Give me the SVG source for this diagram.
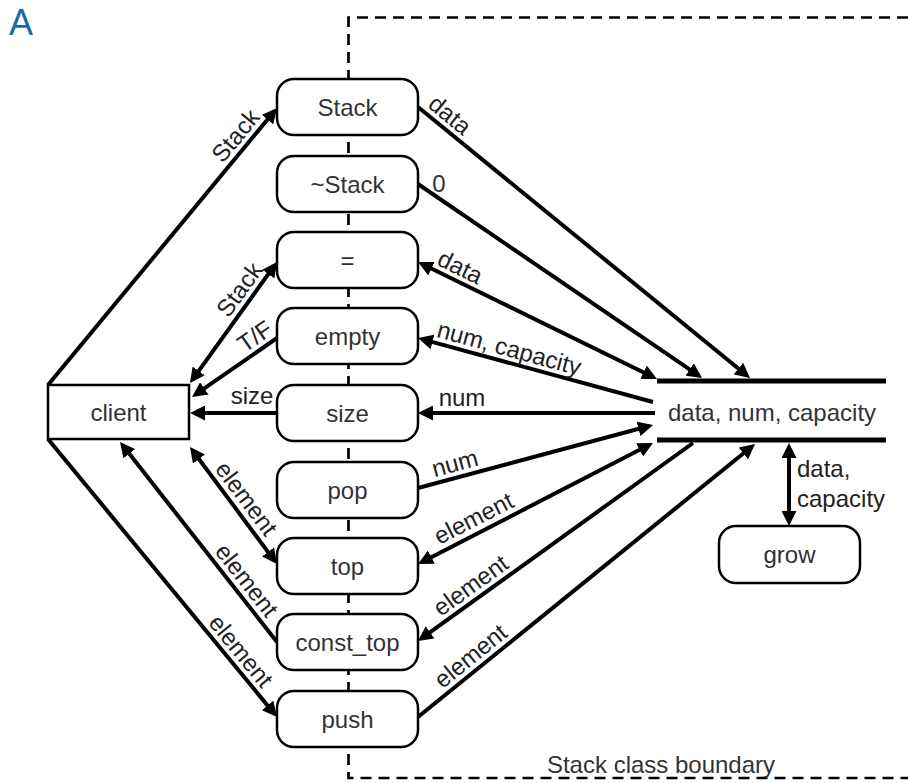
<svg xmlns="http://www.w3.org/2000/svg" width="908" height="783" viewBox="0 0 908 783">
<style>
text{font-family:"Liberation Sans",Arial,sans-serif;font-size:24px;}
.node rect{fill:#fff;stroke:#000;stroke-width:2.5;}
.node text{fill:#333;text-anchor:middle;}
.c{stroke:#000;stroke-width:4;fill:none;}
.a{marker-end:url(#ah);}
.b{marker-start:url(#ah);marker-end:url(#ah);}
.lbl{fill:#222;text-anchor:middle;}
.bound{stroke:#000;stroke-width:2.7;fill:none;stroke-dasharray:11 7;}
</style>
<defs>
<marker id="ah" viewBox="0 0 15 15" refX="11" refY="7.5" markerWidth="15" markerHeight="15" markerUnits="userSpaceOnUse" orient="auto-start-reverse"><path d="M0,0 L15,7.5 L0,15 z" fill="#000"/></marker>
</defs>
<rect width="908" height="783" fill="#fff"/>
<text x="9" y="35" style="font-size:36px;fill:#1a69a9">A</text>
<g id="boundary">
<path class="bound" d="M908,17.5 H348.5 V778 H908"/>
<text x="661" y="773" style="fill:#333;text-anchor:middle">Stack class boundary</text>
</g>
<g id="connectors">
<line class="c a" x1="48" y1="385" x2="274.5" y2="111.1"/>
<line class="c a" x1="418" y1="107" x2="746.9" y2="375.5"/>
<line class="c a" x1="418" y1="184" x2="698.7" y2="375.7"/>
<line class="c b" x1="421.6" y1="263.8" x2="653.4" y2="377.2"/>
<line class="c a" x1="653" y1="402" x2="421.9" y2="339.1"/>
<line class="c a" x1="655" y1="413" x2="422" y2="413"/>
<line class="c a" x1="418" y1="488" x2="649.1" y2="426"/>
<line class="c b" x1="421.6" y1="562.2" x2="649.4" y2="444.8"/>
<line class="c a" x1="693" y1="443" x2="421.2" y2="638.7"/>
<line class="c a" x1="418" y1="717" x2="751.9" y2="446.5"/>
<line class="c b" x1="192.3" y1="379.8" x2="274.7" y2="265.2"/>
<line class="c a" x1="277" y1="338" x2="195.3" y2="394.7"/>
<line class="c a" x1="277" y1="413" x2="194" y2="413"/>
<line class="c b" x1="192.4" y1="450.2" x2="274.6" y2="560.8"/>
<line class="c a" x1="277" y1="642" x2="122.5" y2="445.1"/>
<line class="c a" x1="48" y1="439" x2="274.5" y2="713.9"/>
<line class="c b" x1="789" y1="447" x2="789" y2="522"/>
<text class="lbl" transform="translate(246.5,144.8) rotate(-50.4)" y="-6">Stack</text>
<text class="lbl" transform="translate(441,126) rotate(39.2)" y="-6">data</text>
<text class="lbl" x="439" y="192" style="fill:#333">0</text>
<text class="lbl" transform="translate(454,280) rotate(26.1)" y="-6">data</text>
<text class="lbl" transform="translate(505.5,362) rotate(15.2)" y="-6">num, capacity</text>
<text class="lbl" x="462" y="406">num</text>
<text class="lbl" transform="translate(458.5,477) rotate(-15)" y="-6">num</text>
<text class="lbl" transform="translate(480,531) rotate(-27)" y="-6">element</text>
<text class="lbl" transform="translate(479,597) rotate(-35.8)" y="-6">element</text>
<text class="lbl" transform="translate(479.5,667) rotate(-39)" y="-6">element</text>
<text class="lbl" transform="translate(251,298) rotate(-54.3)" y="-6">Stack</text>
<text class="lbl" transform="translate(263,348) rotate(-34.8)" y="-6">T/F</text>
<text class="lbl" x="252" y="404">size</text>
<text class="lbl" transform="translate(235,507) rotate(53.1)" y="-6">element</text>
<text class="lbl" transform="translate(235.6,589) rotate(51.9)" y="-6">element</text>
<text class="lbl" transform="translate(230,660) rotate(50.5)" y="-6">element</text>
<text x="797" y="477" style="fill:#222">data,</text>
<text x="797" y="507" style="fill:#222">capacity</text>
</g>
<g id="client" class="node"><rect x="48" y="385" width="141" height="54" rx="0"/><text x="118.5" y="421">client</text></g>
<g id="n-stack" class="node"><rect x="277" y="79" width="141" height="56" rx="17"/><text x="347.5" y="116">Stack</text></g>
<g id="n-dtor" class="node"><rect x="277" y="156" width="141" height="56" rx="17"/><text x="347.5" y="193">~Stack</text></g>
<g id="n-assign" class="node"><rect x="277" y="232" width="141" height="56" rx="17"/><text x="347.5" y="269">=</text></g>
<g id="n-empty" class="node"><rect x="277" y="308" width="141" height="56" rx="17"/><text x="347.5" y="345">empty</text></g>
<g id="n-size" class="node"><rect x="277" y="385" width="141" height="56" rx="17"/><text x="347.5" y="422">size</text></g>
<g id="n-pop" class="node"><rect x="277" y="462" width="141" height="56" rx="17"/><text x="347.5" y="499">pop</text></g>
<g id="n-top" class="node"><rect x="277" y="538" width="141" height="56" rx="17"/><text x="347.5" y="575">top</text></g>
<g id="n-const-top" class="node"><rect x="277" y="614" width="141" height="56" rx="17"/><text x="347.5" y="651">const_top</text></g>
<g id="n-push" class="node"><rect x="277" y="691" width="141" height="56" rx="17"/><text x="347.5" y="728">push</text></g>
<g id="store">
<line x1="657" y1="381" x2="886" y2="381" stroke="#000" stroke-width="5"/>
<line x1="657" y1="440" x2="886" y2="440" stroke="#000" stroke-width="5"/>
<text x="772" y="421" style="fill:#333;text-anchor:middle">data, num, capacity</text>
</g>
<g id="grow" class="node"><rect x="719" y="526" width="141" height="57" rx="17"/><text x="789.5" y="563">grow</text></g>
</svg>
